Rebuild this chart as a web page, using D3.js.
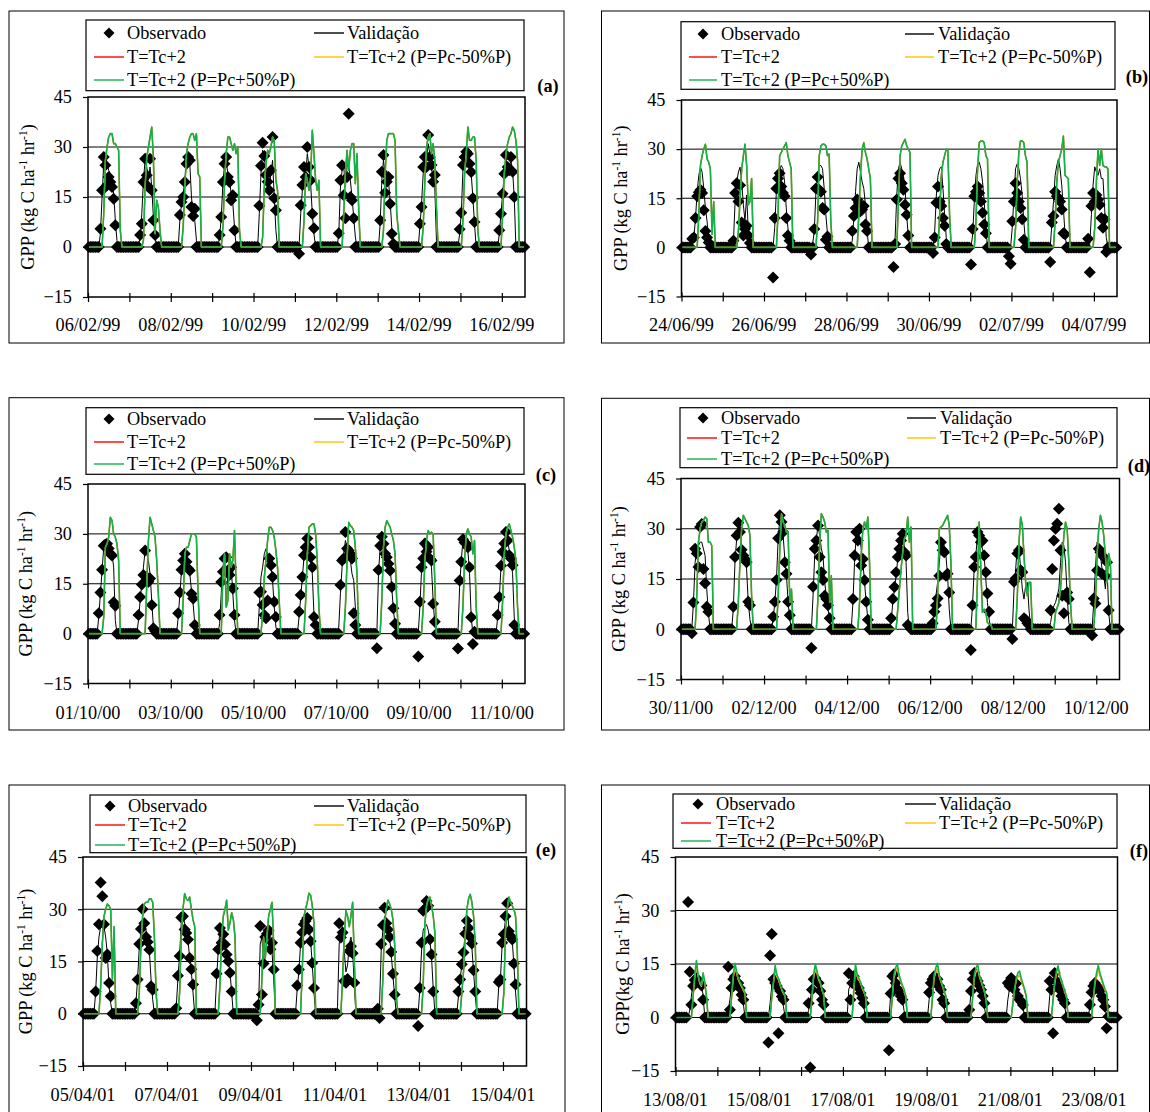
<!DOCTYPE html>
<html>
<head>
<meta charset="utf-8">
<script src="https://cdn.jsdelivr.net/npm/d3@7"></script>
<style>
  body { margin: 0; background: #fff; }
  svg { display: block; }
  text { font-family: "Liberation Serif", "Times New Roman", serif; fill: #000; }
</style>
</head>
<body>
<svg id="fig" width="1150" height="1112"></svg>
<script>
// Hourly GPP over 11-day periods. Each day array lists the values from 06:00 onward;
// the hours it does not list are night-time zeros.
const DAY_FIRST_HOUR = 6;
const HOURS_PER_DAY = 24;
const yTicks = [-15, 0, 15, 30, 45];
const legendNames = ["Observado", "Validação", "T=Tc+2", "T=Tc+2 (P=Pc-50%P)", "T=Tc+2 (P=Pc+50%P)"];

const datesA = ["06/02/99", "08/02/99", "10/02/99", "12/02/99", "14/02/99", "16/02/99"];
const datesB = ["24/06/99", "26/06/99", "28/06/99", "30/06/99", "02/07/99", "04/07/99"];
const datesC = ["01/10/00", "03/10/00", "05/10/00", "07/10/00", "09/10/00", "11/10/00"];
const datesD = ["30/11/00", "02/12/00", "04/12/00", "06/12/00", "08/12/00", "10/12/00"];
const datesE = ["05/04/01", "07/04/01", "09/04/01", "11/04/01", "13/04/01", "15/04/01"];
const datesF = ["13/08/01", "15/08/01", "17/08/01", "19/08/01", "21/08/01", "23/08/01"];

// ---- (a) 06/02/99 - 16/02/99
const obsA = [
  [0,5.5,17,27,24.5,18.5,21,19.5,18,14.5,6.5],
  [0,3.6,7,19.5,26.5,21.5,18,26.5,17,8,3.6],
  [0,9.6,13.5,15,19.5,25,27,26,12,9.3,11.5],
  [0,3.6,9,19.5,25,27,21,19.5,14,15.5,5],
  [0,12.4,24.4,31.3,27.3,21.6,19.6,17,23,33,14.6,11],
  [0,-2,12.5,18.6,24,21,30,24,20,10,5.6],
  [0,4.1,20,24.5,15.5,8.6,21,40,15,14,8.6],
  [0,0,8,22.6,27.6,16.3,19.6,21,13,4,1],
  [0,0,7,12,24,27,24,33.6,27,24.6,19.6,21.6],
  [0,0,5.3,10.3,24.6,27,28.6,28,25,22.5,14.6,7.5],
  [0,0,5,10,16,22,27.6,24,23,27,22.6,15]
];
const valA = [
  [0,4,15,25,27,25,23,22,20,16,8,2],
  [0,3,10,20,26,24,20,24,18,9,3],
  [0,8,13,16,20,25,27,25,15,10,8,2],
  [0,3,9,19,25,26,22,20,16,13,6],
  [0,10,22,29,27,23,20,18,22,26,15,5],
  [0,0,10,17,22,22,28,24,19,10,4],
  [0,4,18,23,24,18,24,26,20,15,9,3],
  [0,0,7,20,26,22,20,20,14,6,2],
  [0,0,6,13,22,26,26,31,28,24,20,18,2],
  [0,0,4,10,23,27,28,28,26,22,15,7],
  [0,0,4,10,16,22,26,25,24,26,23,15]
];
const wetA = [
  [0,0,0,10,26,30,33,34,34,31,31,30,29,5],
  [0,0,0,2,18,27,30,33,36,27,4,14,12,5],
  [0,0,0,6,18,28,31,33,34,34,32,34,22,21],
  [0,0,0,6,20,28,33,33,31,29,31,28,30,5],
  [0,0,0,3,18,25,29,28,30,33,32,20,17],
  [0,0,0,0,8,22,20,17,21,35,28,20,17,20],
  [0,0,0,0,10,22,29,23,29,31,31,19,28,12],
  [0,0,0,0,5,22,32,34,34,34,34,32,10,5],
  [0,0,0,0,6,20,30,33,34,28,31,26,12],
  [0,0,0,0,8,22,28,36,32,32,33,33,26,5],
  [0,0,0,0,10,22,28,31,33,34,36,35,32,26]
];

// ---- (b) 24/06/99 - 04/07/99
const obsB = [
  [2.6,3,9,15.6,16.8,17.6,16.6,11.3,5,3,1.5],
  [0,2,16.6,19.6,14,19,7.6,3.6,5.6,6.6,3.6,1.3],
  [0,-9.2,9,18,21,22.6,18.6,16.6,15.6,9,3.6,2],
  [-2.2,0,5.6,18,21.5,17.6,17,12,11.6,2.3,3.3],
  [0,5,9.6,12,14.6,13.6,11,11.6,12.6,7,5],
  [0,0,-6,1,14.6,21,22.6,19.6,17.6,13,10,3.6],
  [0,0,-1.7,3,13.6,18.6,14,12.6,9,6.6,1],
  [0,-5.2,5.6,15.6,17,18.6,16.6,14,10.6,7,4.3],
  [-2.7,-5,8,14,19.6,16.6,14,12,8.6,2.3],
  [0,-4.5,7.6,9.6,17,15.6,15,14,11.6,4.3,4],
  [2.6,-7.6,12.6,16.6,14,16,14.6,13,9,6,8.6,-1.4]
];
const valB = [
  [1,3,9,17,22,24.5,23,18,12,8,2],
  [0,2,14,20,23,24.5,20,13,8,16,5],
  [0,0,6,17,22,24,25,24,20,12,6,2],
  [0,1,5,17,22,25,25,24,18,10,4],
  [0,2,9,17,24,26,23,20,18,13,5],
  [0,0,0,3,16,24,26,24,22,18,10,3],
  [0,0,0,5,16,22,24,24.6,18,10,3],
  [0,0,4,14,22,25.5,26,24,20,14,6],
  [0,0,6,15,24,25.5,24,21,16,8,2],
  [0,0,7,14,22,25,27,24,19,12,4],
  [0,1,10,19,24.6,23,22,24,21,21,12,3]
];
const wetB = [
  [0,0,0,0,10,25,28,30,31.5,27,26,24,4,14],
  [0,0,0,0,5,15,24,28,31.5,25,13,14,21],
  [0,0,0,0,10,28,29,30,31,32,28,26,24],
  [0,0,0,0,8,28,31,31.5,31.5,31,28,28.5,8],
  [0,0,0,0,0,10,22,30,32,29,27,24,21],
  [0,0,0,0,0,14,28,31,32,33,31,30,29],
  [0,0,0,0,0,0,10,22,26,28,30,29.5,10],
  [0,0,0,0,8,24,32,32.5,32.5,32,28,27],
  [0,0,0,0,6,20,29,32.5,32.5,32,28,26],
  [0,0,0,0,8,20,26,28,30,34,22,21.5,21],
  [0,0,0,0,6,20,30,25,30,25,24.6,24.6,24]
];

// ---- (c) 01/10/00 - 11/10/00
const obsC = [
  [6.1,12.4,19.2,26.4,26.8,27,25.6,24,23.5,9.4,8.4],
  [5.6,11,14.8,17.6,25,17,15.6,16.6,8.6,1.6,0.8],
  [6.1,12.4,19.2,22,24,21.6,19.6,19,12,10.6,2.6],
  [0,5.6,15.5,18.6,22.6,23,18.6,17.6,20,13.6,5.6],
  [0,12.4,12.6,8.6,5.6,4.6,10,22.6,20.6,17,9.6,5],
  [0,6.6,11.6,17,23.6,26,28.6,26,23,20,5,2.6],
  [0,0,14.6,22,22.6,30.6,25.6,25,24,22.6,6.1,2.6],
  [-4.4,19.1,26.4,29.1,27,24,23,21,19,14,7.6,3],
  [0,-6.9,9.6,20,22.6,27.1,24.6,26,22.6,22,9,3.6],
  [0,-4.5,16,21.6,28.4,27.4,27,26,20,4.9,-3.1,0.6],
  [0,5.6,11,20.4,24.6,27.1,30.6,28,23.6,22.6,20.6,2.6]
];
const valC = [
  [5,12,19,26,27,27,26,25,24,20,4],
  [4,10,15,20,25,24,22,18,10,2],
  [5,12,19,22,24,23,21,18,13,9,3],
  [0,3,12,20,23,8,18,24,20,12,4],
  [0,8,17,20,24,25.5,24,22,20,16,8,2],
  [0,5,11,17,23,26,28,27,24,18,6,2],
  [0,2,12,20,24,28,26,25,22,18,16,8],
  [0,18,26,29,29,27,24,22,20,14,7,3],
  [0,0,8,19,23,27,25,26,23,20,10,3],
  [0,0,14,22,28,28,27,25,18,5],
  [0,5,11,20,24,27,30,28,25,22,18,5]
];
const wetC = [
  [0,0,0,5,26,27,29,35,34,30,29,27,22],
  [0,0,0,0,0,15,28,35,33,31,29,22,12],
  [0,0,0,10,24,26,26,28,30,30,30,29,12],
  [0,0,0,18,24,8,10,24,20,22,31,14],
  [0,0,0,6,17,22,28,32,32,31,29,25,20,10],
  [0,0,0,0,0,10,24,32,32.5,33,33,30,22,8],
  [0,0,0,0,0,8,22,33.5,32.5,32,31,26,18],
  [0,0,0,10,26,32,34,33,32,30,28,24,10],
  [0,0,0,0,8,22,28,31,30,30.5,30,16],
  [0,0,0,0,8,22,30,31.5,30,29,24,28,8],
  [0,0,0,0,10,24,30,32,33,31,29,26,22,8]
];

// ---- (d) 30/11/00 - 10/12/00
const obsD = [
  [-1.2,8,24,22.6,18.6,30.5,31.4,18,13.7,6.7,5.2],
  [0,6.7,21.6,28,31.8,29,23.7,22,21,20,8.2,7.2],
  [0,3.7,8.2,14.7,27.2,34,32,29,20,16.6,8.2,4.2],
  [-5.6,12.7,24,26.5,31,21.6,17,14.7,10,9,7.2,3.3],
  [0,9,22,29,26.5,30,19,21,14.6,8.2,2.8],
  [3.3,9,12.6,17,21.6,24,26.5,28.5,23,22,1.3,0.8],
  [0,1.8,5.2,7.2,9.2,16,26,23.6,23,16,16.6,11],
  [-6.2,7.2,18.6,21.6,29,28,26,26.5,22,17,10.7,5.2],
  [0,-2.9,14.2,15.2,22.6,23.6,17.6,17,3.3,2.8,1.8,1.3],
  [5.7,18,26.5,30,31.5,36,23.6,10,4.8,10.2,11,9],
  [0,-1.8,9.2,7.7,17.6,24,23,16.6,21.6,16,20,5.7]
];
const valD = [
  [0,8,20,24,25,26,26,24,22,12,5],
  [0,6,20,27,31,30,25,22,21,18,8,3],
  [0,3,8,15,27,33,32,28,21,16,8,3],
  [0,10,22,27,31,28,24,22,14,10,6,3],
  [0,8,20,28,28,28,24,20,14,8,3],
  [2,8,12,16,21,24,26,27,25,20,5],
  [0,2,6,10,14,20,25,26,25,22,16,6],
  [0,7,18,22,28,28,26,24,22,15,8,3],
  [0,0,12,18,25,24,18,12,9,13,14,6],
  [2,5,7,8,10,12,20,26,25,20,10,2],
  [0,0,8,18,26,25,22,18,16,12,19,5]
];
const wetD = [
  [0,0,0,10,26,30,32,32.5,33.5,33,26,26,25],
  [0,0,0,0,8,20,30,34,33,32,31,28,10],
  [0,0,0,0,10,24,34.5,32,31,29,29,8,12],
  [0,0,0,0,10,26,34.5,33.5,32,29,29.5,8,16],
  [0,0,0,0,0,8,22,30,32,30,33.5,20],
  [0,0,0,0,6,12,18,23,27,28,33.5,26,30.5],
  [0,0,0,0,10,30,30.5,31,32,33,34,31,20],
  [0,0,0,0,15,32,18,5,6,5,2,1.5,1.5],
  [0,0,0,0,10,26,33.5,31,22,14,10,14,14],
  [0,0,0,5,6.5,8,12,20,28,32,30,20,8],
  [0,0,0,8,22,30,34,32,28,22,14,22.6,20]
];

// ---- (e) 05/04/01 - 15/04/01
const obsE = [
  [0,6.4,18,25.7,37.7,33.7,25.7,16,17,8.8,5],
  [0,3,9.8,20,24.3,30,26,22,20.6,18.4,7.9,6.9],
  [0,1.6,10.9,16.6,27.6,28,24.2,23.2,21.3,16,12.8,8.4],
  [0,11.5,18.5,24.6,20.4,22.8,19.9,17,15.1,11.8,6.4],
  [0,-1.9,2.6,25.2,5.5,14.4,22,23,24,18.5,20.4,12.7],
  [0,8.1,12.7,20.4,23.3,25.7,26.6,27.5,24.2,20.8,14.6,7.4],
  [0,0,26,21.9,23.3,9.4,8.9,10,18,19.4,17.4,8.9],
  [0,1.4,-1.2,20,25.4,30.4,26,24.2,22,17.7,11.5,5.5],
  [0,-3.5,7.4,20.4,29.6,30.1,32.4,31,21.4,17,6.4],
  [0,6.4,9.8,14.2,17.6,23,26.7,24.6,22,20.2,12.5,6.4],
  [0,9.1,9.8,20.4,22.8,28,31.7,23.7,22.3,21.3,14.4,8.4]
];
const valE = [
  [0,6,16,22,25,25,25,22,17,8,3],
  [0,3,10,19,24,27,26,24,22,18,10,4],
  [0,2,10,17,26,28,26,24,21,16,12,6],
  [0,10,18,24,22,22,20,17,15,12,6],
  [0,0,2,20,22,14,22,25,24,20,18,10],
  [0,7,12,20,23,26,27,28,25,21,14,6],
  [0,2,20,24,25,18,12,14,20,22,18,8],
  [0,0,2,18,24,28,26,24,22,17,11,5],
  [0,0,7,18,24,25,25.6,24,21,16,7],
  [0,5,10,14,18,23,26,25,22,19,12,5],
  [0,8,10,20,23,27,30,25,22,21,14,6]
];
const wetE = [
  [0,0,0,0,8,20,28,30,31.5,31,30,10,25],
  [0,0,0,6,20,28,31.5,32,32,33,33,32,22,6],
  [0,0,0,6,22,30,34.5,33,32.5,33.5,30,27,25],
  [0,0,0,8,22,28,30,32.6,24,26,29,27,22],
  [0,0,0,0,10,22,16,22,28,30,32,20],
  [0,0,0,0,12,28,30,32,34.6,34,31,26],
  [0,0,0,0,10,22,29.6,28,25,28,32,15],
  [0,0,0,0,10,26,30,32.6,31.5,30,27,20,5],
  [0,0,0,0,8,26,31,33,33.5,31,28,23],
  [0,0,0,6,12,22,30,33,34.3,32,28,20],
  [0,0,0,0,6,24,30,33.5,32,31,30,28,18]
];

// ---- (f) 13/08/01 - 23/08/01
const obsF = [
  [0,32.4,12.8,3.6,8.8,10.5,11,10,9.7,9,5],
  [0,14.2,2.2,8.3,10.7,11.6,9.2,9.7,8.3,6.4,5],
  [0,-7,17.4,23.4,10.7,9.7,8.8,-4.4,7.4,5.9,5],
  [0,4,-14,7.8,10.7,11,10,9.7,7.4,5,3.6],
  [0,12.4,5,9.7,11.6,9.5,8.8,8.3,6.9,5.5,4],
  [0,-9.2,6.7,11.6,12.1,9.7,8,7.4,6,5],
  [0,7,9.7,10.7,11.6,9.7,10.7,8.8,7.8,5,4],
  [0,2.2,7.4,10.7,12.5,11.1,10.2,9,7.8,6,4],
  [9.7,8.8,11.1,10.2,7.8,9.5,6,5,4.4,3.5],
  [0,10.2,7.8,-4.4,12.5,10.2,8.8,7.8,6,5,4],
  [0,3.6,7.1,8.8,9.7,9,8.3,7.4,6,5,3.1,-3,0.3]
];
const valF = [
  [0,0,2,6,10,12,11,10,9,10,6],
  [0,2,5,9,11,12,10,9,8,7,4],
  [0,0,4,9,10,10,9,8,7,5,3],
  [0,2,5,8,11,11,10,9,8,6,3],
  [0,8,9,10,11,11,10,9,7,5,3],
  [0,0,6,10,11,11,10,9,7,5,2],
  [0,5,8,10,11,11,10,9,7,5,3],
  [0,2,7,10,12,11,10,9,8,6,3],
  [5,8,9,10,10,9,8,6,5,3],
  [0,6,9,10,11,11,10,9,7,5,3],
  [0,3,6,8,10,10,9,8,7,5,3]
];
const baseF = [
  [0,0,0,0,5.5,11,14.5,11.5,9.5,8.7,11.5,9.5,5.8],
  [0,0,0,5.5,11,13.8,12.3,10.5,9.5,8.6,7.6,6.7],
  [0,0,0,5.5,9.5,13.3,11.4,10.5,9,7.6,6.7,5.8],
  [0,0,0,5.5,11,13.6,12.3,10.5,9.5,7.6,6.2],
  [0,0,0,0,7.5,13.6,11.4,10.5,9.5,8.1,7.1,5.8],
  [0,0,0,5.5,11,12.8,13.7,11.4,10,8.6,7.6,5.8],
  [0,0,0,5.5,11,12.8,13.8,11.4,10,8.6,7.1,5.8],
  [0,0,0,5.5,11,12.8,13.5,11.4,10,8.6,7.1,4.8],
  [0,0,0,3.8,7.5,10.3,11.5,12,10.4,9,7.6,5.8],
  [0,0,0,4.7,9.4,12,13.3,11.4,10,8.6,7.1,5.8],
  [0,0,0,4.7,9.4,11.5,13.4,11.8,10.4,9,7.6,6.7]
];
const wetF = [
  [0,0,0,0,6,12,16,12,10,9,12.5,10,6],
  [0,0,0,6,12,15.2,13,11,10,9,8,7],
  [0,0,0,6,10,14.6,12,11,9.5,8,7,6],
  [0,0,0,6,12,15,13,11,10,8,6.5],
  [0,0,0,0,8,15,12,11,10,8.5,7.5,6],
  [0,0,0,6,12,14,15,12,10.5,9,8,6],
  [0,0,0,6,12,14,15.2,12,10.5,9,7.5,6],
  [0,0,0,6,12,14,14.8,12,10.5,9,7.5,5],
  [0,0,0,4,8,11,12.5,13,11,9.5,8,6],
  [0,0,0,5,10,13,14.5,12,10.5,9,7.5,6],
  [0,0,0,5,10,12.5,14.6,12.5,11,9.5,8,7]
];

// The three warming runs overlap almost everywhere; only in (f) do the drier/base runs separate.
const panels = [
  { tag: "(a)", dates: datesA, obs: obsA, val: valA, base: wetA, dry: wetA, wet: wetA,
    frame: [9, 11, 564, 343], plot: { l: 88, r: 525, t: 97, b: 297 },
    legend: { box: [86, 20, 524, 90.7], rows: [33, 57, 80], dx: 109, lx: [94, 124], tx: 127, rx: [314, 344], rtx: 347 },
    tagPos: [548, 92], titleX: 27.5, xLabelY: 331, yTitle: "GPP (kg C ha" },
  { tag: "(b)", dates: datesB, obs: obsB, val: valB, base: wetB, dry: wetB, wet: wetB,
    frame: [601.5, 11, 1149.5, 343], plot: { l: 681.5, r: 1117, t: 100, b: 296.5 },
    legend: { box: [681, 21.7, 1115, 89.3], rows: [34, 57, 80], dx: 703, lx: [689, 717], tx: 721, rx: [905, 934], rtx: 938 },
    tagPos: [1137, 83], titleX: 621, xLabelY: 331, yTitle: "GPP (kg C ha" },
  { tag: "(c)", dates: datesC, obs: obsC, val: valC, base: wetC, dry: wetC, wet: wetC,
    frame: [9, 397.7, 564, 730], plot: { l: 88, r: 525, t: 484, b: 683.5 },
    legend: { box: [86, 407.7, 524, 474.3], rows: [419, 442, 464], dx: 109, lx: [94, 124], tx: 127, rx: [314, 344], rtx: 347 },
    tagPos: [546, 481], titleX: 26, xLabelY: 719, yTitle: "GPP (kg C ha" },
  { tag: "(d)", dates: datesD, obs: obsD, val: valD, base: wetD, dry: wetD, wet: wetD,
    frame: [601.5, 398.3, 1149.5, 730], plot: { l: 681, r: 1119.5, t: 478.5, b: 679.5 },
    legend: { box: [680, 407.7, 1117, 467.7], rows: [418, 438, 459], dx: 703, lx: [687, 717], tx: 721, rx: [907, 936], rtx: 940 },
    tagPos: [1139, 472], titleX: 619, xLabelY: 714, yTitle: "GPP (kg C ha" },
  { tag: "(e)", dates: datesE, obs: obsE, val: valE, base: wetE, dry: wetE, wet: wetE,
    frame: [9, 785, 565, 1130], plot: { l: 83, r: 526.5, t: 857, b: 1066 },
    legend: { box: [90, 795, 526, 852.7], rows: [806, 825, 845], dx: 110, lx: [95, 125], tx: 128, rx: [314, 344], rtx: 347 },
    tagPos: [546, 856], titleX: 25.7, xLabelY: 1101, yTitle: "GPP (kg C ha" },
  { tag: "(f)", dates: datesF, obs: obsF, val: valF, base: baseF, dry: baseF, wet: wetF,
    frame: [601.5, 785, 1149.5, 1130], plot: { l: 675.5, r: 1117.5, t: 857, b: 1071 },
    legend: { box: [673, 794, 1117, 848.3], rows: [804, 823, 841], dx: 698, lx: [681, 711], tx: 716, rx: [905, 936], rtx: 939 },
    tagPos: [1139, 857], titleX: 622.7, xLabelY: 1106, yTitle: "GPP(kg C ha" }
];

const COLORS = { val: "#000000", base: "#ff0000", dry: "#ffc000", wet: "#14b04a" };
const FONT = 18.3;

// Expand day arrays into a continuous hourly series
function hourly(days) {
  const out = [];
  days.forEach(day => {
    for (let h = 0; h < HOURS_PER_DAY; h++) {
      const j = h - DAY_FIRST_HOUR;
      out.push(j >= 0 && j < day.length ? day[j] : 0);
    }
  });
  return out;
}

const diamond = r => `M0,${-r}L${r},0L0,${r}L${-r},0Z`;
const svg = d3.select("#fig");

panels.forEach(p => {
  const g = svg.append("g");
  const obs = hourly(p.obs), val = hourly(p.val), base = hourly(p.base), dry = hourly(p.dry), wet = hourly(p.wet);
  const n = obs.length;
  const x = d3.scaleLinear().domain([0, n]).range([p.plot.l, p.plot.r]);
  const y = d3.scaleLinear().domain([-15, 45]).range([p.plot.b, p.plot.t]);

  // outer frame
  const [fx0, fy0, fx1, fy1] = p.frame;
  g.append("rect").attr("x", fx0).attr("y", fy0).attr("width", fx1 - fx0).attr("height", fy1 - fy0)
    .attr("fill", "none").attr("stroke", "#000").attr("stroke-width", 1);

  // gridlines
  g.append("g").selectAll("line").data(yTicks.slice(1, -1)).join("line")
    .attr("x1", p.plot.l).attr("x2", p.plot.r)
    .attr("y1", d => y(d)).attr("y2", d => y(d))
    .attr("stroke", "#000").attr("stroke-width", 1);

  // y axis
  const yAxis = g.append("g").attr("transform", `translate(${p.plot.l},0)`)
    .call(d3.axisLeft(y).tickValues(yTicks).tickSize(5).tickPadding(11).tickFormat(d3.format("d")));
  yAxis.select(".domain").remove();
  yAxis.selectAll("line").attr("stroke", "#000").attr("stroke-width", 1.2);
  yAxis.selectAll("text").attr("font-size", FONT);

  // x axis ticks every 25 hours, date labels every 50
  const tickIdx = d3.range(0, n - 10, 25);
  const xAxis = g.append("g").attr("transform", `translate(0,${p.plot.b})`)
    .call(d3.axisBottom(x).tickValues(tickIdx).tickSize(5).tickFormat(""));
  xAxis.select(".domain").remove();
  xAxis.selectAll(".tick line").attr("y1", -4).attr("stroke", "#000").attr("stroke-width", 1.2);
  g.append("g").selectAll("text").data(p.dates).join("text")
    .attr("x", (d, i) => x(i * 50)).attr("y", p.xLabelY)
    .attr("text-anchor", "middle").attr("font-size", FONT).text(d => d);

  // observed diamonds
  g.append("g").selectAll("path").data(obs).join("path")
    .attr("d", diamond(6))
    .attr("transform", (v, i) => `translate(${x(i + 0.5)},${y(v)})`)
    .attr("fill", "#000");

  // model lines
  const line = d3.line().x((v, i) => x(i + 0.5)).y(v => y(v));
  [[val, COLORS.val, 1], [base, COLORS.base, 1.2], [dry, COLORS.dry, 1.2], [wet, COLORS.wet, 1.6]]
    .forEach(([s, c, w]) => g.append("path").attr("d", line(s)).attr("fill", "none")
      .attr("stroke", c).attr("stroke-width", w).attr("stroke-linejoin", "round"));

  // plot border
  g.append("rect").attr("x", p.plot.l).attr("y", p.plot.t)
    .attr("width", p.plot.r - p.plot.l).attr("height", p.plot.b - p.plot.t)
    .attr("fill", "none").attr("stroke", "#000").attr("stroke-width", 1.5);

  // y title
  const cy = (p.plot.t + p.plot.b) / 2;
  const title = g.append("text").attr("transform", `translate(${p.titleX},${cy}) rotate(-90)`)
    .attr("text-anchor", "middle").attr("dy", "0.35em").attr("font-size", FONT);
  title.append("tspan").text(p.yTitle);
  title.append("tspan").attr("font-size", 11.5).attr("dy", -7).text("-1");
  title.append("tspan").attr("dy", 7).text(" hr");
  title.append("tspan").attr("font-size", 11.5).attr("dy", -7).text("-1");
  title.append("tspan").attr("dy", 7).text(")");

  // panel tag
  g.append("text").attr("x", p.tagPos[0]).attr("y", p.tagPos[1]).attr("text-anchor", "middle")
    .attr("font-size", FONT).attr("font-weight", "bold").text(p.tag);

  // legend
  const L = p.legend;
  g.append("rect").attr("x", L.box[0]).attr("y", L.box[1])
    .attr("width", L.box[2] - L.box[0]).attr("height", L.box[3] - L.box[1])
    .attr("fill", "#fff").attr("stroke", "#000").attr("stroke-width", 1.2);
  const items = [
    { name: legendNames[0], row: 0, col: 0, marker: true },
    { name: legendNames[1], row: 0, col: 1, color: COLORS.val },
    { name: legendNames[2], row: 1, col: 0, color: COLORS.base },
    { name: legendNames[3], row: 1, col: 1, color: COLORS.dry },
    { name: legendNames[4], row: 2, col: 0, color: COLORS.wet }
  ];
  items.forEach(it => {
    const ry = L.rows[it.row];
    const lx = it.col === 0 ? L.lx : L.rx;
    const tx = it.col === 0 ? L.tx : L.rtx;
    if (it.marker) {
      g.append("path").attr("d", diamond(5.5)).attr("transform", `translate(${L.dx},${ry})`).attr("fill", "#000");
    } else {
      g.append("line").attr("x1", lx[0]).attr("x2", lx[1]).attr("y1", ry).attr("y2", ry)
        .attr("stroke", it.color).attr("stroke-width", 1.4);
    }
    g.append("text").attr("x", tx).attr("y", ry).attr("dy", "0.35em")
      .attr("font-size", FONT).text(it.name);
  });
});
</script>
</body>
</html>
